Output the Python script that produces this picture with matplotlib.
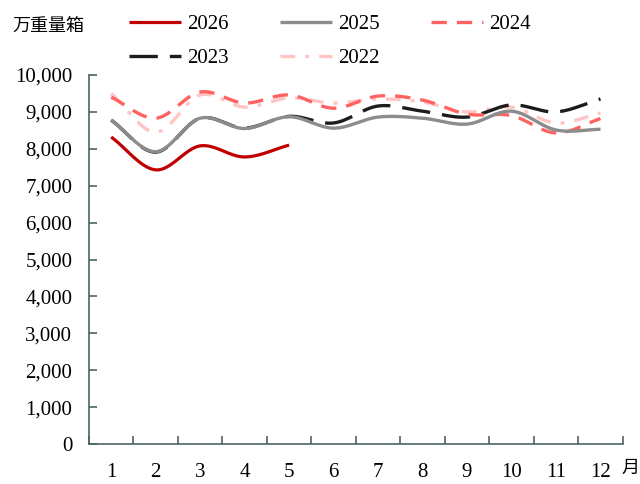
import numpy as np
import matplotlib
matplotlib.use("Agg")
import matplotlib.pyplot as plt
from matplotlib.ticker import FuncFormatter, FixedLocator

plt.rcParams['font.family'] = ['Liberation Serif', 'Noto Sans CJK SC', 'DejaVu Sans']

months = list(range(1, 13))
month_labels = [str(m) for m in months]
y2026 = [8320, 7430, 8080, 7780, 8100]
y2025 = [8780, 7920, 8830, 8550, 8870, 8560, 8860, 8830, 8670, 9020, 8510, 8530]
y2024 = [9400, 8830, 9540, 9240, 9460, 9100, 9430, 9320, 8940, 8900, 8430, 8820]
y2023 = [8780, 7910, 8830, 8560, 8880, 8700, 9160, 9020, 8860, 9190, 9000, 9350]
y2022 = [9500, 8450, 9460, 9130, 9380, 9240, 9350, 9270, 9000, 9130, 8700, 8970]

def smooth(x, y, n=30):
    # Catmull-Rom style smoothing (like Excel smoothed lines)
    x = np.asarray(x, float); y = np.asarray(y, float)
    if len(x) < 3:
        return x, y
    px = np.concatenate([[2*x[0]-x[1]], x, [2*x[-1]-x[-2]]])
    py = np.concatenate([[2*y[0]-y[1]], y, [2*y[-1]-y[-2]]])
    xs, ys = [], []
    t = np.linspace(0, 1, n, endpoint=False)
    for i in range(1, len(px)-2):
        def cr(a0, a1, a2, a3):
            return 0.5*((2*a1) + (-a0+a2)*t + (2*a0-5*a1+4*a2-a3)*t**2 + (-a0+3*a1-3*a2+a3)*t**3)
        xs.append(cr(px[i-1], px[i], px[i+1], px[i+2]))
        ys.append(cr(py[i-1], py[i], py[i+1], py[i+2]))
    xs.append([x[-1]]); ys.append([y[-1]])
    return np.concatenate(xs), np.concatenate(ys)

fig = plt.figure(figsize=(6.4, 4.84), dpi=100)
ax = fig.add_axes([0.139, 0.0826, 0.834, 0.7624])

axcol = '#4a6464'
series = {
    '2026': (months[:len(y2026)], y2026, dict(color='#C00000', lw=2.3, ls='-')),
    '2025': (months, y2025, dict(color='#8C8C8C', lw=2.4, ls='-')),
    '2024': (months, y2024, dict(color='#FF6262', lw=2.4, dashes=(4.6, 3.0))),
    '2023': (months, y2023, dict(color='#1C1C1C', lw=2.4, dashes=(8.5, 3.6))),
    '2022': (months, y2022, dict(color='#FFC4C4', lw=2.4, dashes=(4.4, 3.0, 1.2, 3.0))),
}
handles = {}
for name in ['2022', '2023', '2024', '2025', '2026']:
    xs_, ys_, st = series[name]
    sx, sy = smooth(xs_, ys_)
    h, = ax.plot(sx, sy, label=name, solid_capstyle='butt', dash_capstyle='butt', **st)
    handles[name] = h

ax.set_xlim(0.5, 12.5)
ax.set_ylim(0, 10000)
ax.set_yticks(np.arange(0, 10001, 1000))
ax.yaxis.set_major_formatter(FuncFormatter(lambda v, p: f'{int(v):,}'))
ax.set_xticks(months)
ax.set_xticklabels(month_labels)
ax.xaxis.set_minor_locator(FixedLocator(np.arange(0.5, 12.6, 1)))
ax.tick_params(axis='x', which='major', length=0, pad=13.5, labelsize=15)
ax.tick_params(axis='x', which='minor', length=6, direction='in', color=axcol, width=1.2)
ax.tick_params(axis='y', length=6, direction='in', color=axcol, width=1.2, pad=12, labelsize=15)
for s in ['top', 'right']:
    ax.spines[s].set_visible(False)
for s in ['left', 'bottom']:
    ax.spines[s].set_color(axcol)
    ax.spines[s].set_linewidth(1.2)

fig.text(0.020, 0.944, '万重量箱', fontsize=13, family=['Noto Sans CJK SC'], va='center', ha='left')
fig.text(0.971, 0.033, '月', fontsize=13, family=['Noto Sans CJK SC'], va='center', ha='left')

order = ['2026', '2023', '2025', '2022', '2024']
leg = fig.legend(handles=[handles[k] for k in order], labels=order, ncol=3,
                 loc='upper left', bbox_to_anchor=(0.2016, 0.97), frameon=False,
                 fontsize=15, handlelength=2.5, handletextpad=0.3, columnspacing=2.45,
                 labelspacing=0.7, borderpad=0, borderaxespad=0)

fig.savefig('out.png', dpi=100)
